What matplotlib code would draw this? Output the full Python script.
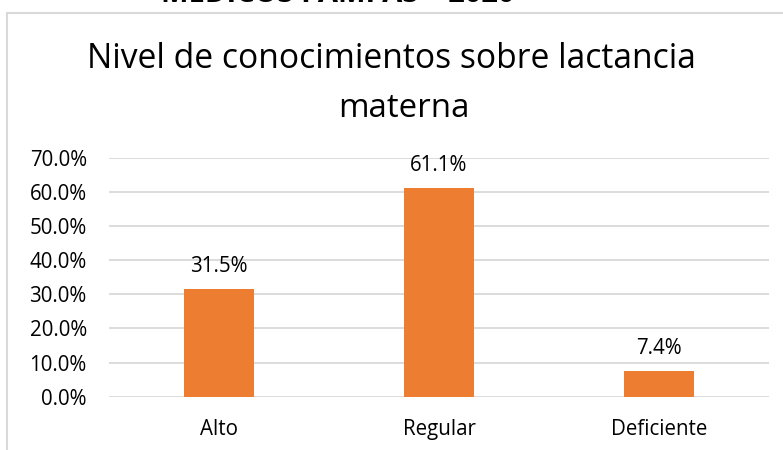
import matplotlib
matplotlib.use("Agg")
import matplotlib.pyplot as plt
from matplotlib.patches import Rectangle

categories = ["Alto", "Regular", "Deficiente"]
values = [0.315, 0.611, 0.074]
labels = ["31.5%", "61.1%", "7.4%"]
yticks = [0.0, 0.1, 0.2, 0.3, 0.4, 0.5, 0.6, 0.7]
ytick_labels = ["0.0%", "10.0%", "20.0%", "30.0%", "40.0%", "50.0%", "60.0%", "70.0%"]

plt.rcParams['font.family'] = ['Open Sans', 'DejaVu Sans']
W, H = 783, 450
fig = plt.figure(figsize=(W/100, H/100), dpi=100)

# chart border (extends beyond right/bottom)
fig.add_artist(Rectangle((7/W, -0.1), 1.2, 1 - 13/H + 0.1, transform=fig.transFigure,
                         fill=False, edgecolor='#D9D9D9', linewidth=1.5))

# cut-off header text (only its lower part is visible in the reference)
fig.text(338/W, 1 - 2/H, "MÉDICOS PAMPAS – 2020", ha='center', va='baseline',
         fontsize=21, fontweight='bold', color='black')

ax = fig.add_axes([109/W, 1 - 396.7/H, (769-109)/W, (396.7-157.7)/H])
x = list(range(len(categories)))
ax.bar(x, values, width=0.32, color='#ED7D31', zorder=3)
ax.set_xlim(-0.5, len(categories) - 0.5)
ax.set_ylim(0, 0.7)
ax.set_yticks(yticks)
ax.set_yticklabels(ytick_labels, fontsize=14.8, color='#000000')
ax.set_xticks(x)
ax.set_xticklabels(categories, fontsize=14.8, color='#000000')
ax.tick_params(axis='y', length=0, pad=16)
ax.tick_params(axis='x', length=0, pad=16)
for s in ax.spines.values():
    s.set_visible(False)
ax.grid(axis='y', color='#D9D9D9', linewidth=1.3, zorder=0)
for xi, v, lab in zip(x, values, labels):
    ax.annotate(lab, (xi, v), xytext=(0, 12.2), textcoords='offset points',
                ha='center', va='baseline', fontsize=14.8, color='#000000')

fig.text(391/W, 1 - 68/H, "Nivel de conocimientos sobre lactancia", ha='center', va='baseline',
         fontsize=24.2, color='#000000')
fig.text(404/W, 1 - 117/H, "materna", ha='center', va='baseline',
         fontsize=23.8, color='#000000')

fig.savefig("out.png", dpi=100)
